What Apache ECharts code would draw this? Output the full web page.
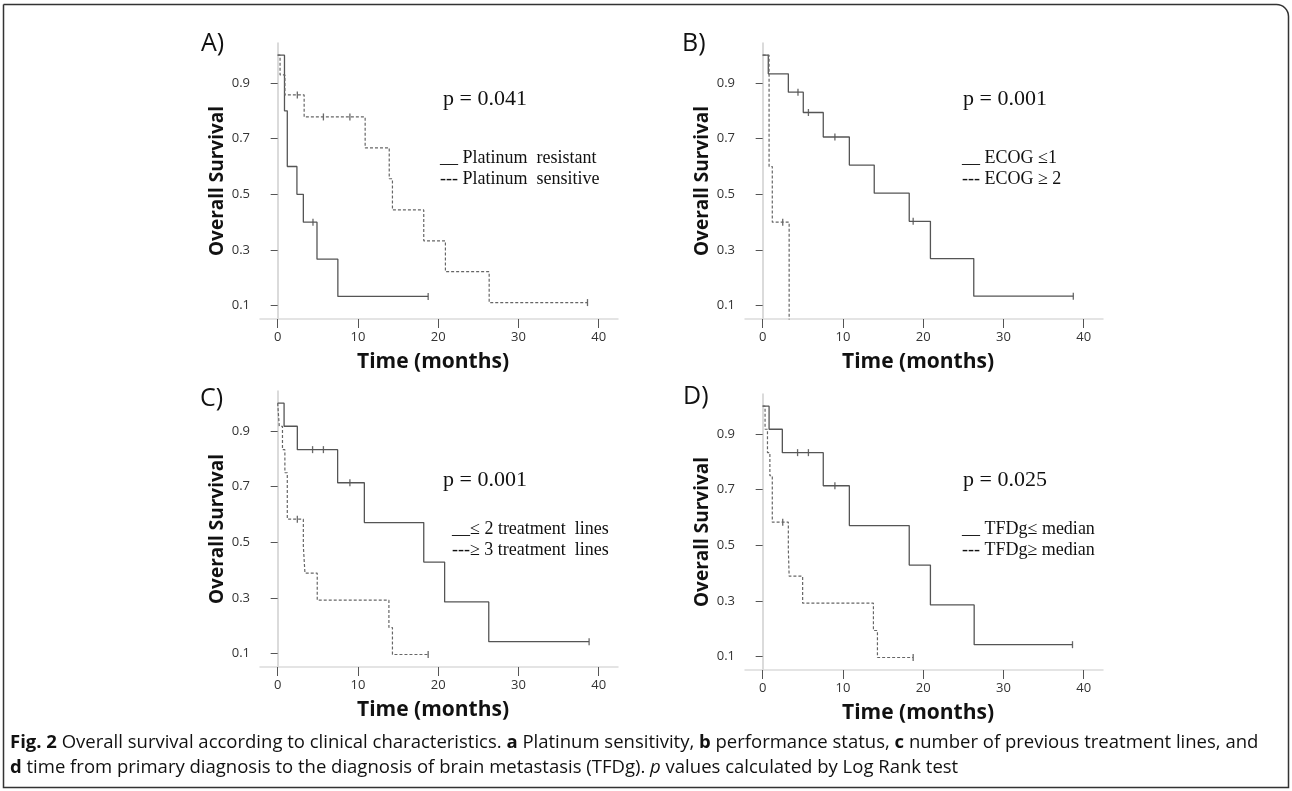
<!DOCTYPE html>
<html>
<head>
<meta charset="utf-8">
<script src="https://cdn.jsdelivr.net/npm/echarts@6/dist/echarts.min.js"></script>
<style>
html, body { margin: 0; padding: 0; background: #fff; }
#chart { width: 1292px; height: 791px; }
</style>
</head>
<body>
<div id="chart"></div>
<script>
// Kaplan-Meier steps: time of each step (months) and survival after it
// A) platinum
const aResistTime = [0, 0.85, 1.2, 2.4, 3.2, 4.9, 7.5, 18.75];
const aResistSurv = [1, 0.8, 0.6, 0.5, 0.4, 0.267, 0.133, 0.133];
const aResistCens = [4.4, 18.75];
const aSensTime = [0, 0.3, 0.9, 3.3, 10.9, 13.9, 14.3, 18.2, 20.9, 26.35, 38.6];
const aSensSurv = [1, 0.929, 0.857, 0.778, 0.667, 0.556, 0.444, 0.333, 0.222, 0.111, 0.111];
const aSensCens = [2.45, 5.7, 9.0, 38.6];
// B) ECOG
const bLowTime = [0, 0.7, 3.2, 5.06, 7.55, 10.8, 13.9, 18.26, 20.9, 26.3, 38.7];
const bLowSurv = [1, 0.933, 0.867, 0.794, 0.706, 0.605, 0.504, 0.403, 0.269, 0.134, 0.134];
const bLowCens = [4.4, 5.7, 9.0, 18.75, 38.7];
const bHighTime = [0, 0.8, 1.2, 3.3];
const bHighSurv = [1, 0.6, 0.4, 0];
const bHighCens = [2.5];
// C) treatment lines
const cFewTime = [0, 0.8, 2.45, 7.47, 10.8, 18.2, 20.8, 26.3, 38.8];
const cFewSurv = [1, 0.917, 0.833, 0.714, 0.571, 0.429, 0.286, 0.143, 0.143];
const cFewCens = [4.35, 5.7, 9.0, 38.8];
const cManyTime = [0, 0.2, 0.6, 0.9, 1.2, 3.2, 3.4, 4.93, 13.86, 14.3, 18.75];
const cManySurv = [1, 0.917, 0.833, 0.75, 0.583, 0.486, 0.389, 0.292, 0.194, 0.097, 0.097];
const cManyCens = [2.45, 18.75];
// D) TFDg
const dLowTime = [0, 0.8, 2.45, 7.55, 10.8, 18.26, 20.9, 26.35, 38.6];
const dLowSurv = [1, 0.917, 0.833, 0.714, 0.571, 0.429, 0.286, 0.143, 0.143];
const dLowCens = [4.35, 5.7, 9.0, 38.6];
const dHighTime = [0, 0.3, 0.6, 0.9, 1.2, 3.2, 3.3, 4.98, 13.8, 14.3, 18.75];
const dHighSurv = [1, 0.917, 0.833, 0.75, 0.583, 0.486, 0.389, 0.292, 0.194, 0.097, 0.097];
const dHighCens = [2.5, 18.75];

const xTicks = [0, 10, 20, 30, 40];
const yTicks = [0.1, 0.3, 0.5, 0.7, 0.9];
const panelLetters = ['A)', 'B)', 'C)', 'D)'];
const pValues = ['p = 0.041', 'p = 0.001', 'p = 0.001', 'p = 0.025'];
const legendTexts = [
  ['__ Platinum  resistant', '--- Platinum  sensitive'],
  ['__ ECOG \u22641', '--- ECOG \u2265 2'],
  ['__\u2264 2 treatment  lines', '---\u2265 3 treatment  lines'],
  ['__ TFDg\u2264 median', '--- TFDg\u2265 median']
];

const panels = [
  { solid: [aResistTime, aResistSurv, aResistCens], dashed: [aSensTime, aSensSurv, aSensCens] },
  { solid: [bLowTime, bLowSurv, bLowCens], dashed: [bHighTime, bHighSurv, bHighCens] },
  { solid: [cFewTime, cFewSurv, cFewCens], dashed: [cManyTime, cManySurv, cManyCens] },
  { solid: [dLowTime, dLowSurv, dLowCens], dashed: [dHighTime, dHighSurv, dHighCens] }
];

// layout of the four plots
const gridPos = [
  { left: 260, top: 43 }, { left: 745, top: 43 },
  { left: 260, top: 391 }, { left: 745, top: 394 }
];
const labelPos = [
  { letter: [201, 44], p: [443, 99], leg: [440, 158] },
  { letter: [682, 44], p: [963, 99], leg: [962, 158] },
  { letter: [200, 399], p: [443, 480], leg: [452, 529] },
  { letter: [683, 397], p: [963, 480], leg: [962, 529] }
];

function survAt(times, surv, t) {
  let s = surv[0];
  for (let i = 0; i < times.length; i++) if (times[i] <= t) s = surv[i];
  return s;
}

const grids = [], xAxes = [], yAxes = [], series = [], graphics = [];

panels.forEach((p, i) => {
  grids.push({ left: gridPos[i].left, top: gridPos[i].top, width: 358, height: 276, containLabel: false, outerBoundsMode: 'none' });
  xAxes.push({
    gridIndex: i, type: 'value', min: -2.2, max: 42.4,
    axisLine: { show: true, lineStyle: { color: '#dcdcdc', width: 1.5 } },
    axisTick: { show: true, customValues: xTicks, length: 9, lineStyle: { color: '#555' } },
    axisLabel: { customValues: xTicks, color: '#333', fontSize: 13, fontFamily: 'Open Sans', margin: 12 },
    splitLine: { show: false },
    name: 'Time (months)', nameLocation: 'middle', nameGap: 33,
    nameTextStyle: { fontFamily: 'Open Sans', fontWeight: 'bold', fontSize: 21, color: '#111', padding: [0, 12, 0, 0] }
  });
  yAxes.push({
    gridIndex: i, type: 'value', min: 0.052, max: 1.0437,
    axisLine: { show: true, lineStyle: { color: '#cfcfcf', width: 1.5 } },
    axisTick: { show: true, customValues: yTicks, length: 7, lineStyle: { color: '#555' } },
    axisLabel: { customValues: yTicks, formatter: v => v.toFixed(1), color: '#333', fontSize: 13, fontFamily: 'Open Sans', margin: 10 },
    splitLine: { show: false },
    name: 'Overall Survival', nameLocation: 'middle', nameGap: 33,
    nameTextStyle: { fontFamily: 'Open Sans', fontWeight: 'bold', fontSize: 19, color: '#111' }
  });

  [['solid', p.solid], ['dashed', p.dashed]].forEach(([kind, d]) => {
    const [times, surv, cens] = d;
    series.push({
      type: 'line', xAxisIndex: i, yAxisIndex: i, step: 'end', showSymbol: false, silent: true,
      data: times.map((t, k) => [t, surv[k]]),
      lineStyle: kind === 'solid'
        ? { color: '#555', width: 1.3, type: 'solid' }
        : { color: '#666', width: 1.2, type: [3, 2] },
      clip: true
    });
    series.push({
      type: 'scatter', xAxisIndex: i, yAxisIndex: i, silent: true,
      symbol: 'rect', symbolSize: [1.3, 7],
      itemStyle: { color: '#444' },
      data: cens.map(t => [t, survAt(times, surv, t)])
    });
  });

  const lp = labelPos[i];
  graphics.push({ type: 'text', x: lp.letter[0], y: lp.letter[1],
    style: { text: panelLetters[i], fontFamily: 'Open Sans', fontSize: 25, fill: '#111', verticalAlign: 'middle' } });
  graphics.push({ type: 'text', x: lp.p[0], y: lp.p[1],
    style: { text: pValues[i], fontFamily: 'Liberation Serif', fontSize: 22, fill: '#111', verticalAlign: 'middle' } });
  legendTexts[i].forEach((t, k) => {
    graphics.push({ type: 'text', x: lp.leg[0], y: lp.leg[1] + k * 21,
      style: { text: t, fontFamily: 'Liberation Serif', fontSize: 18, fill: '#111', verticalAlign: 'middle' } });
  });
});

// figure frame and caption
graphics.push({ type: 'rect', shape: { x: 3.5, y: 4.5, width: 1285, height: 783, r: [0, 12, 0, 0] },
  style: { fill: 'none', stroke: '#333', lineWidth: 1.5 } });
const capRich = {
  b: { fontFamily: 'Open Sans', fontWeight: 'bold', fontSize: 18.5, fill: '#111' },
  i: { fontFamily: 'Open Sans', fontStyle: 'italic', fontSize: 18.5, fill: '#111' }
};
graphics.push({ type: 'text', x: 10, y: 743,
  style: { text: '{b|Fig. 2} Overall survival according to clinical characteristics. {b|a} Platinum sensitivity, {b|b} performance status, {b|c} number of previous treatment lines, and',
    fontFamily: 'Open Sans', fontSize: 18.5, fill: '#111', verticalAlign: 'middle', rich: capRich } });
graphics.push({ type: 'text', x: 10, y: 768,
  style: { text: '{b|d} time from primary diagnosis to the diagnosis of brain metastasis (TFDg). {i|p} values calculated by Log Rank test',
    fontFamily: 'Open Sans', fontSize: 18.5, fill: '#111', verticalAlign: 'middle', rich: capRich } });

const chart = echarts.init(document.getElementById('chart'), null, { renderer: 'canvas' });
chart.setOption({
  animation: false,
  backgroundColor: '#fff',
  grid: grids,
  xAxis: xAxes,
  yAxis: yAxes,
  series: series,
  graphic: graphics
});
</script>
</body>
</html>
